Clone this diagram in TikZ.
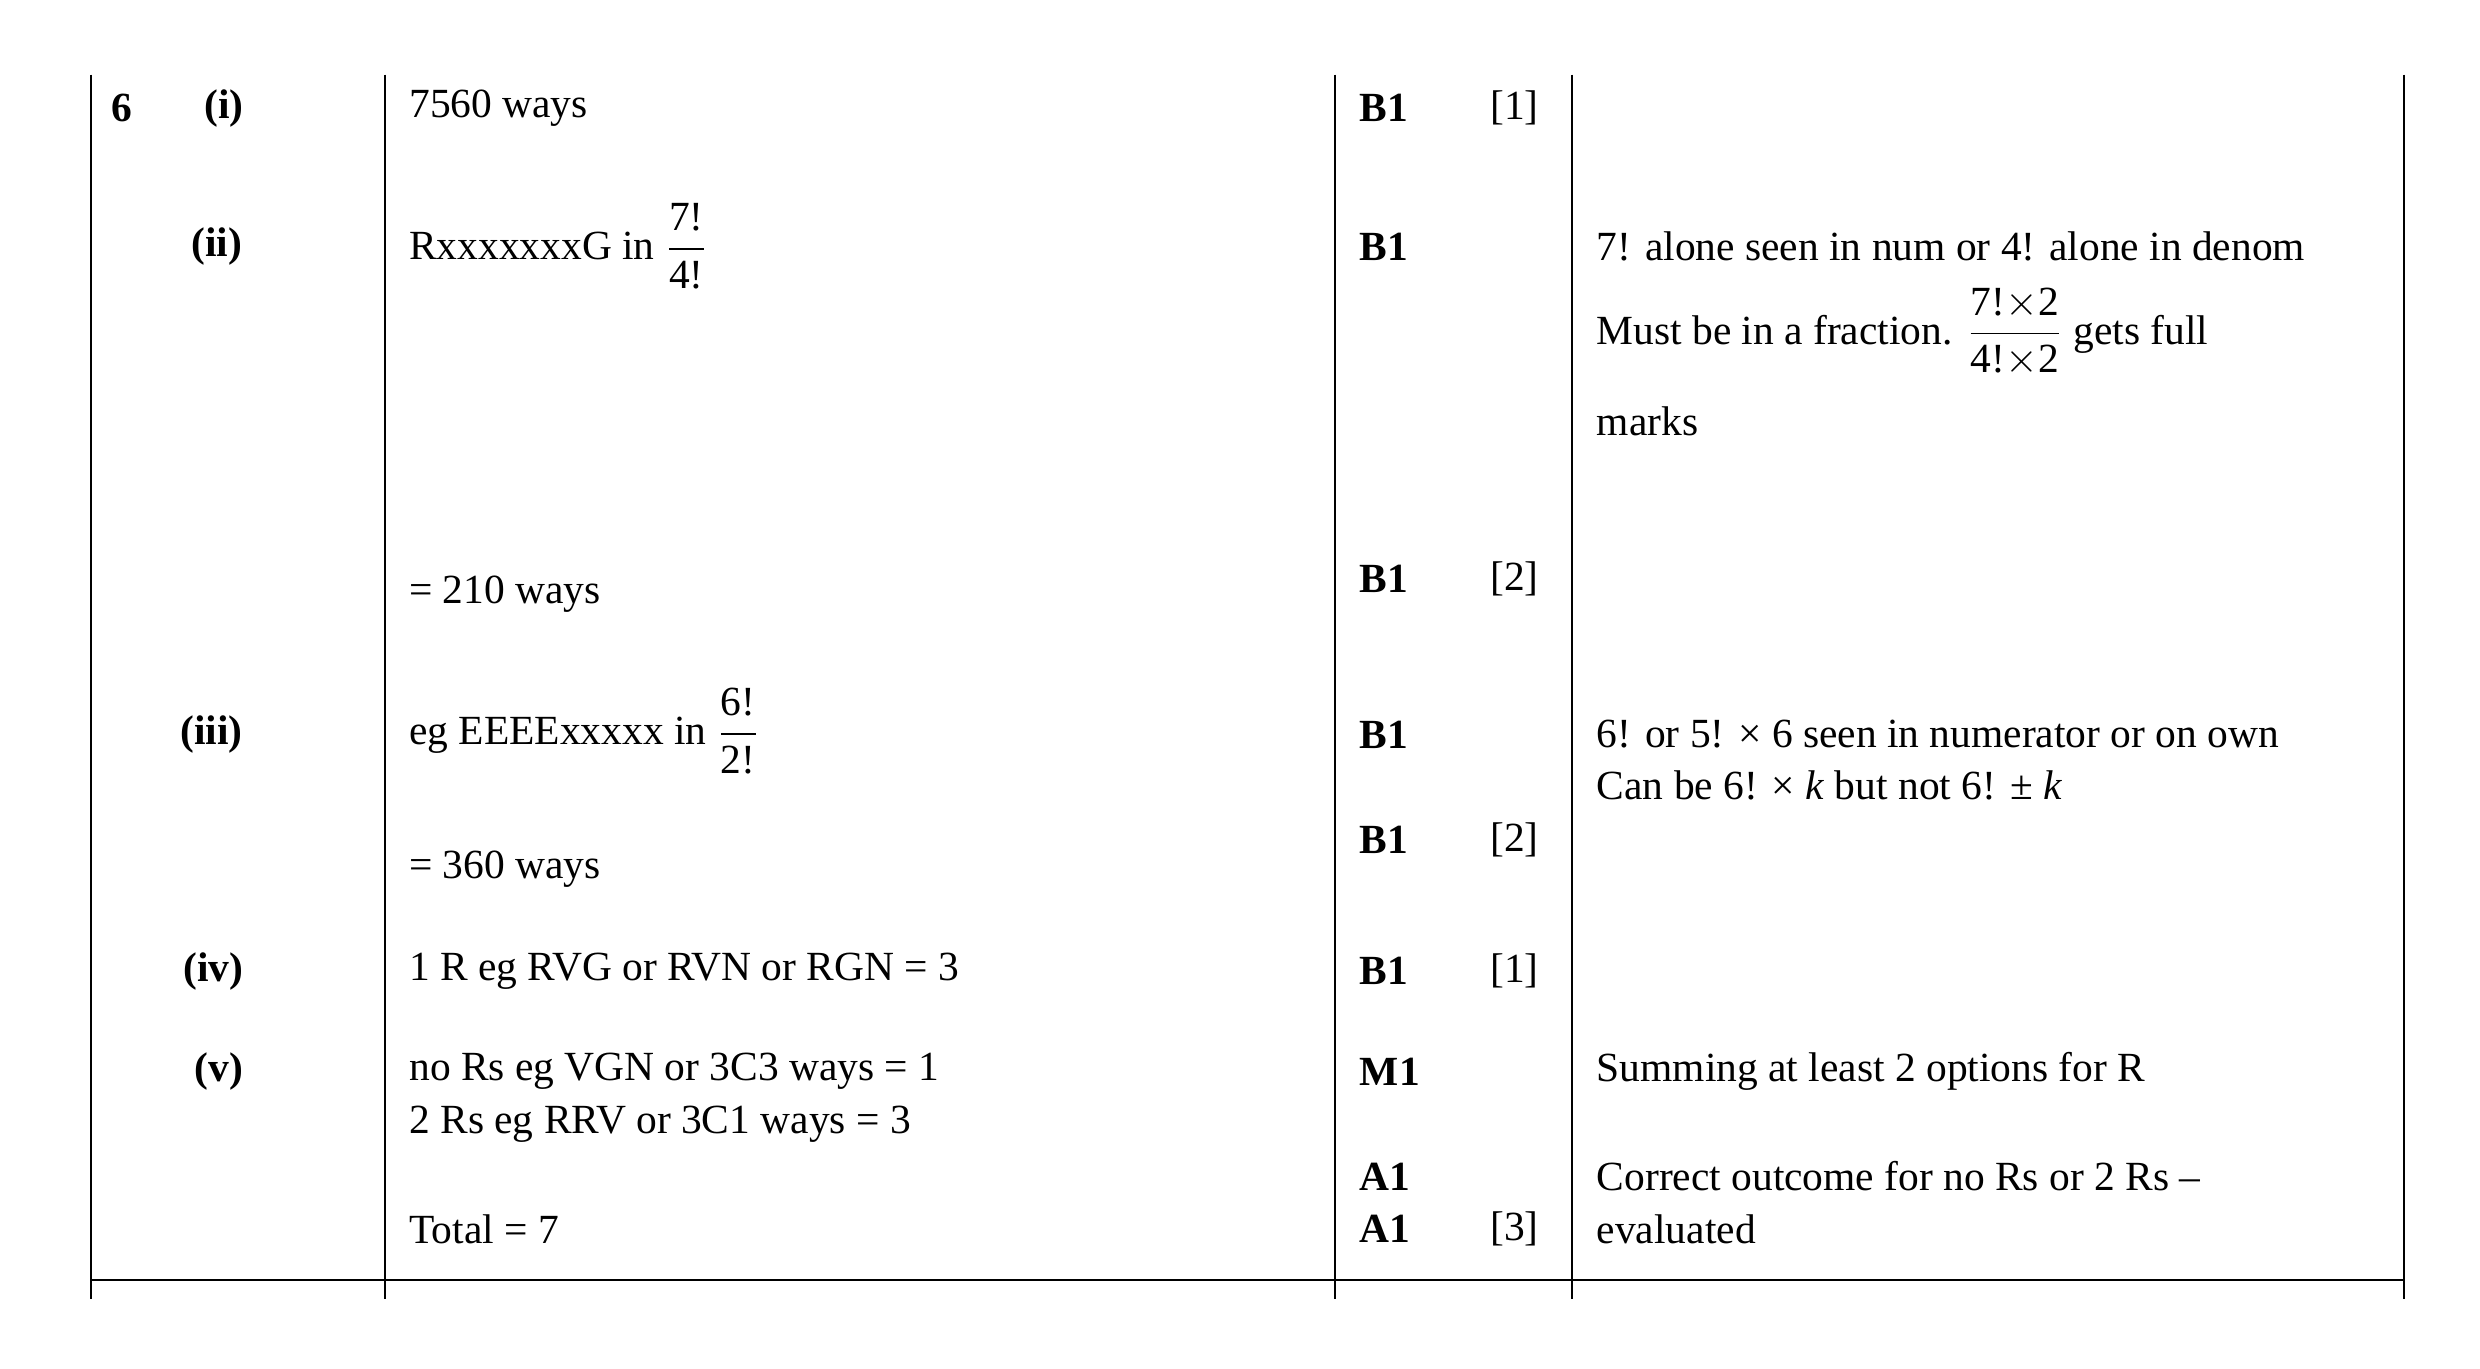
\documentclass[tikz,border=0pt]{standalone}
\usepackage{amsmath}
\usepackage{fontspec}
\setmainfont{Liberation Serif}
\begin{document}
\begin{tikzpicture}[x=0.0159cm,y=-0.0159cm,
  t/.style={anchor=west,inner sep=0pt,font=\fontsize{11.8}{14}\selectfont},
  b/.style={t,font=\fontsize{11.8}{14}\selectfont\bfseries},
  ln/.style={line width=0.6pt}]
\useasboundingbox (0,0) rectangle (1560,861);
\foreach \x/\n in {57/a,242/b,840/c,989/d,1512/e}{\draw[ln] (\x,47) coordinate (top\n) -- (\x,817) coordinate (bot\n);}
\coordinate (hl) at (57,805); \coordinate (hr) at (1512,805);
\draw[ln] (hl) -- (hr);
% column 1
\node[b] (q6) at (70,68) {6};
\node[b] (pi) at (128,68) {(i)};
\node[b] (pii) at (120,155) {(ii)};
\node[b] (piii) at (113,462) {(iii)};
\node[b] (piv) at (115,611) {(iv)};
\node[b] (pv) at (122,674) {(v)};
% column 2
\node[t] (a1) at (257,68) {7560 ways};
\node[t] (a2) at (257,155) {RxxxxxxxG in $\dfrac{\text{7!}}{\text{4!}}$};
\node[t] (a3) at (257,374) {= 210 ways};
\node[t] (a4) at (257,460) {eg EEEExxxxx in $\dfrac{\text{6!}}{\text{2!}}$};
\node[t] (a5) at (257,547) {= 360 ways};
\node[t] (a6) at (257,611) {1 R eg RVG or RVN or RGN = 3};
\node[t] (a7) at (257,674) {no Rs eg VGN or 3C3 ways = 1};
\node[t] (a8) at (257,707) {2 Rs eg RRV or 3C1 ways = 3};
\node[t] (a9) at (257,773) {Total = 7};
% column 3
\foreach \y/\m [count=\i] in {68/B1,155/B1,364/B1,462/B1,528/B1,611/B1,674/M1,740/A1,773/A1}
  \node[b] (m\i) at (855,\y) {\m};
\foreach \y/\m [count=\i] in {68/[1],364/[2],528/[2],611/[1],773/[3]}
  \node[t] (k\i) at (937,\y) {\m};
% column 4
\node[t] (g1) at (1004,155) {7! alone seen in num or 4! alone in denom};
\node[t] (g2) at (1004,209) {Must be in a fraction. $\dfrac{\text{7!}{\times}\text{2}}{\text{4!}{\times}\text{2}}$ gets full};
\node[t] (g3) at (1004,265) {marks};
\node[t] (g4) at (1004,462) {6! or 5! × 6 seen in numerator or on own};
\node[t] (g5) at (1004,494) {Can be 6! × \textit{k} but not 6! ± \textit{k}};
\node[t] (g6) at (1004,674) {Summing at least 2 options for R};
\node[t] (g7) at (1004,740) {Correct outcome for no Rs or 2 Rs –};
\node[t] (g8) at (1004,773) {evaluated};
\end{tikzpicture}
\end{document}
